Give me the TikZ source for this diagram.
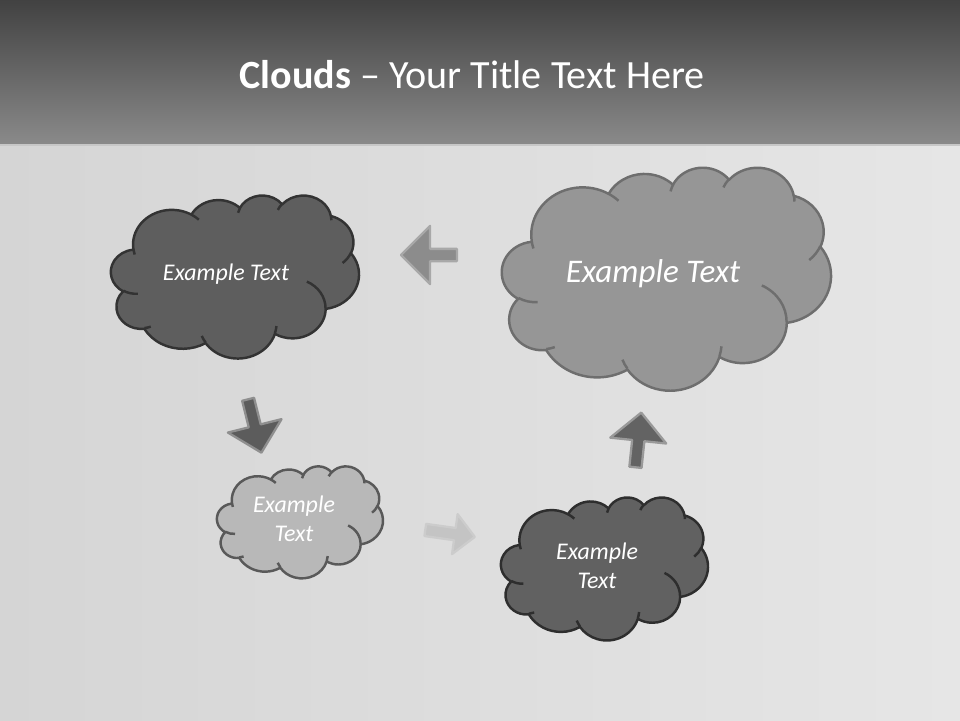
\documentclass[tikz,border=0pt]{standalone}
\usepackage{fontspec}
\setmainfont{Carlito}
\usepackage{xcolor}
\usepackage{tikz}
\usetikzlibrary{
	shapes.arrows, calc
}

\definecolor{bandtop}{HTML}{424242}
\definecolor{bandbot}{HTML}{8A8A8A}
\definecolor{metalA}{HTML}{D5D5D5}
\definecolor{metalB}{HTML}{E6E6E6}

% one arc of the cloud outline, angles as seen on the ellipse
\newcommand\cloudarc[4]{arc[x radius=#1, y radius=#2,
	start angle={atan2(#1*sin(#3),#2*cos(#3))},
	delta angle={mod(atan2(#1*sin(#3+#4),#2*cos(#3+#4))-atan2(#1*sin(#3),#2*cos(#3))+720,360)}]}

\tikzset{
	cloudpic/.pic={
		\path[pic actions, x=1cm, y=1cm] (3.9,14.37)
			\cloudarc{6.753}{9.19}{-190.4875}{123.7805}
			\cloudarc{5.333}{7.267}{-144.1024}{89.9452}
			\cloudarc{4.365}{5.945}{-145.8079}{99.723}
			\cloudarc{4.857}{6.595}{-130.9861}{117.2417}
			\cloudarc{5.333}{7.273}{-78.7089}{109.0269}
			\cloudarc{6.775}{9.22}{-46.2673}{130.269}
			\cloudarc{5.785}{7.867}{0.625}{114.0333}
			\cloudarc{6.752}{9.215}{22.4516}{115.1726}
			\cloudarc{7.72}{10.543}{66.2426}{75.711}
			\cloudarc{4.36}{5.918}{-274.9421}{146.7356}
			\cloudarc{4.345}{5.945}{-246.8285}{152.5189} -- cycle;
		\path[pic actions, fill=none, x=1cm, y=1cm]
			(4.693,26.177) \cloudarc{4.345}{5.945}{86.742}{26.4295}
			(6.928,34.899) \cloudarc{4.36}{5.918}{73.6105}{11.4475}
			(16.478,39.09) \cloudarc{6.752}{9.215}{137.6242}{14.0811}
			(28.827,34.751) \cloudarc{6.752}{9.215}{6.4533}{15.9984}
			(34.129,22.954) \cloudarc{5.785}{7.867}{-70.2924}{70.9174}
			(41.798,15.354) \cloudarc{5.333}{7.273}{30.318}{27.7515}
			(38.324,5.426) \cloudarc{4.857}{6.595}{-13.7443}{14.8589}
			(29.078,3.952) \cloudarc{4.857}{6.595}{-149.1815}{18.1954}
			(22.141,4.72) \cloudarc{4.365}{5.945}{-163.4943}{17.6864}
			(14,5.192) \cloudarc{6.753}{9.19}{-66.707}{12.3194}
			(4.127,15.789) \cloudarc{6.753}{9.19}{157.6544}{11.8582};
	},
	cloudtext/.style={text=white, font=\itshape\fontsize{13.6}{16.3}\selectfont, align=center, inner sep=0pt},
	blockarrow/.style={single arrow, inner xsep=0pt, inner ysep=0.1cm, line width=1.3pt, single arrow head extend=0.45cm}
}

\begin{document}
\begin{tikzpicture}[x=0.02cm, y=-0.02cm, line join=round]
	\useasboundingbox (0,0) rectangle (960,720);
	\shade[left color=metalA, right color=metalB] (0,145) rectangle (960,720);
	\shade[top color=bandtop, bottom color=bandbot] (0,0) rectangle (960,145);
	\draw[line width=1pt, color=black!22] (0,145) -- (960,145);
	\node[text=white, font=\fontsize{22.8}{27}\selectfont] (title) at (472,75) {\textbf{Clouds} -- Your Title Text Here};

	\pic[fill=black!63, draw=black!80, line width=1.4pt, xscale={248/2160}, yscale={-163/2160}] at (111,195) {cloudpic};
	\pic[fill=black!41, draw=black!57, line width=1.4pt, xscale={329/2160}, yscale={-223/2160}] at (502,167) {cloudpic};
	\pic[fill=black!28, draw=black!65, line width=1.4pt, xscale={166/2160}, yscale={-112/2160}] at (217,466) {cloudpic};
	\pic[fill=black!62, draw=black!82, line width=1.4pt, xscale={207/2160}, yscale={-143/2160}] at (501,497) {cloudpic};

	\node[cloudtext] (topleft) at (226,274) {Example Text};
	\node[cloudtext, font=\itshape\fontsize{18.8}{22}\selectfont] (topright) at (653,274) {Example Text};
	\node[cloudtext] (small) at (294,519) {Example\\Text};
	\node[cloudtext] (bottom) at (597,566) {Example\\Text};

	\node[blockarrow, fill=black!45, draw=black!34, rotate=180, minimum height=1.12cm, single arrow head extend=0.46cm] (toleft) at (432,255) {};
	\node[blockarrow, fill=black!64, draw=black!44, rotate=-76, minimum height=1.1cm, single arrow head extend=0.43cm] (todown) at (254,423) {};
	\node[blockarrow, fill=black!23, draw=black!20, rotate=-8, minimum height=1cm, single arrow head extend=0.28cm] (toright) at (447,533) {};
	\node[blockarrow, fill=black!61, draw=black!40, rotate=84, minimum height=1.1cm, single arrow head extend=0.44cm] (toup) at (638,443) {};
\end{tikzpicture}
\end{document}
